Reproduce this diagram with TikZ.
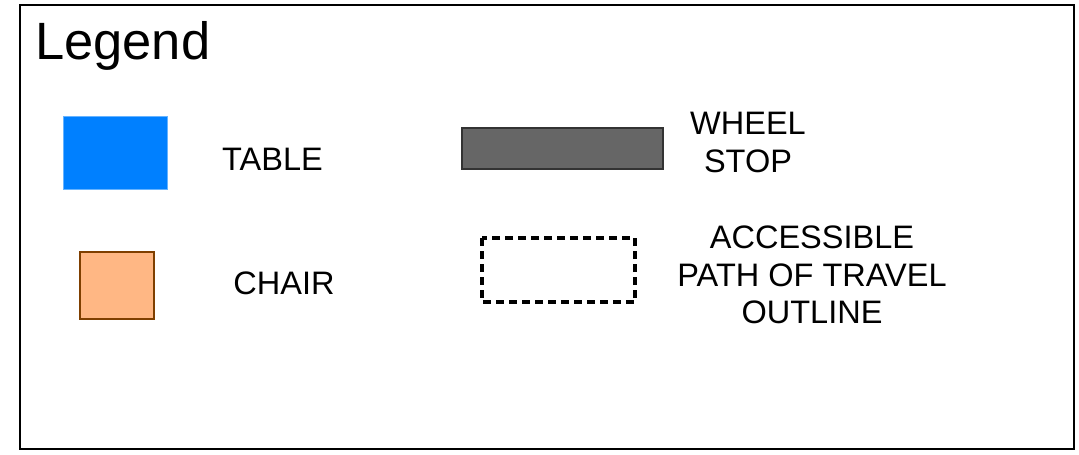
\documentclass[tikz,border=0pt]{standalone}
\usepackage{fontspec}
\setmainfont{Liberation Sans}
\usepackage{tikz}
\definecolor{tableblue}{HTML}{0080FF}
\definecolor{chairfill}{HTML}{FFB784}
\definecolor{chairedge}{HTML}{7F3F00}
\definecolor{stopfill}{HTML}{666666}
\definecolor{stopedge}{HTML}{333333}
\tikzset{lbl/.style={align=center,inner sep=0pt,font=\fontsize{32.5}{37.5}\selectfont}}

\begin{document}
\begin{tikzpicture}[x=1pt,y=-1pt]
\useasboundingbox (0,0) rectangle (1079,455);
\draw[line width=2.7pt] (20,5) rectangle (1074,449);
\node[anchor=base west,inner sep=0pt,font=\fontsize{52.5}{60}\selectfont] (l0) at (35,59) {Legend};

\draw[fill=tableblue,draw=tableblue!60!white,line width=0.8pt] (63,116) rectangle (167,189);
\node[lbl] (t1) at (272.5,159) {TABLE};

\draw[fill=chairfill,draw=chairedge,line width=2pt] (80,252) rectangle (154,319);
\node[lbl] (c1) at (284,283.5) {CHAIR};

\draw[fill=stopfill,draw=stopedge,line width=2pt] (462,128) rectangle (663,169);
\node[lbl] (w1) at (748,142.5) {WHEEL\\STOP};

\draw[line width=4pt,dash pattern=on 8pt off 5pt] (482,238) rectangle (635,302);
\node[lbl] (a1) at (812,275) {ACCESSIBLE\\PATH OF TRAVEL\\OUTLINE};
\end{tikzpicture}
\end{document}
